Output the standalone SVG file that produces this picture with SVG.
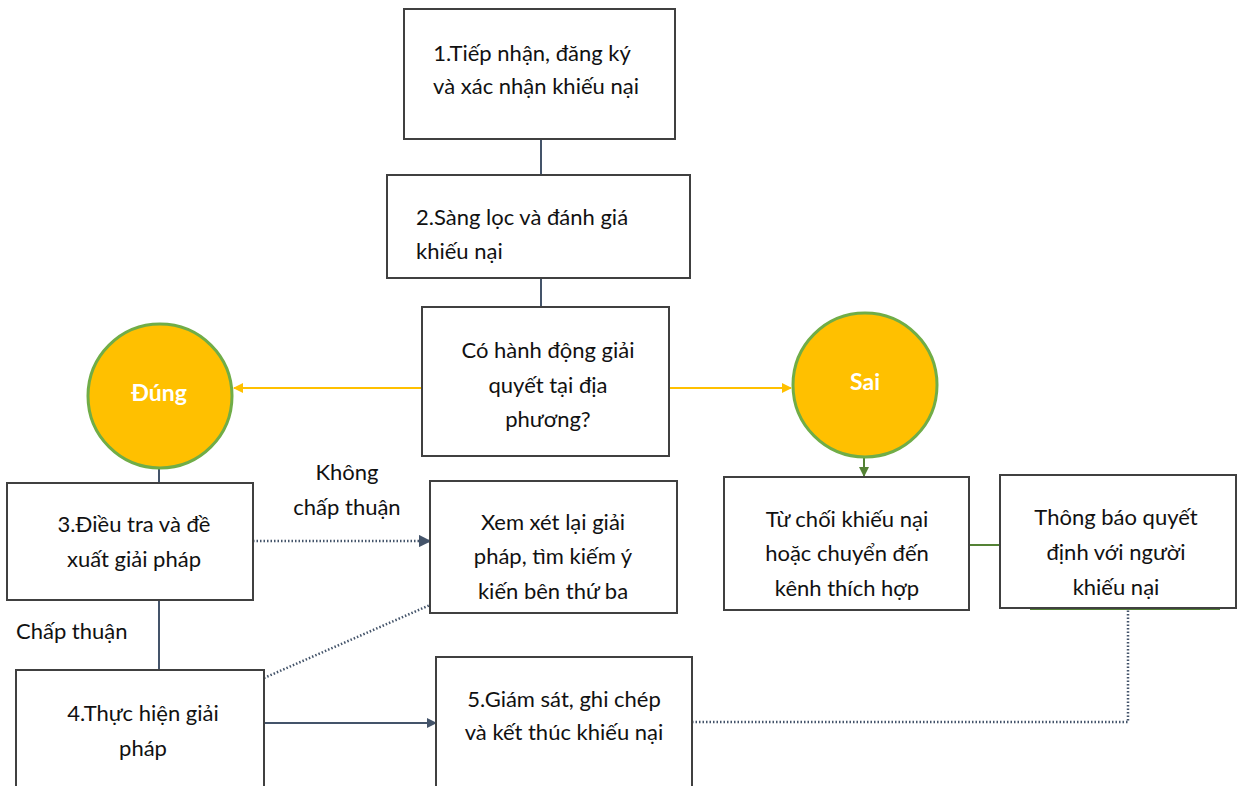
<svg xmlns="http://www.w3.org/2000/svg" width="1240" height="786" viewBox="0 0 1240 786">
<defs>
<style>
.box{fill:#fff;stroke:#404040;stroke-width:2}
.t{font-family:Lato,"Liberation Sans",sans-serif;font-size:22px;fill:#111;text-anchor:middle}
.tl{font-family:Lato,"Liberation Sans",sans-serif;font-size:22px;fill:#111}
.circ{fill:#FFC000;stroke:#70AD47;stroke-width:3}
.ct{font-family:Lato,"Liberation Sans",sans-serif;font-size:23px;font-weight:bold;fill:#fff;text-anchor:middle}
.solid{stroke:#44546A;stroke-width:2;fill:none}
.dot{stroke:#44546A;stroke-width:2.5;stroke-dasharray:1.5 2;fill:none}
.yel{stroke:#FFC000;stroke-width:2;fill:none}
.grn{stroke:#548235;stroke-width:2;fill:none}
</style>
<marker id="aD" viewBox="0 0 10 10" refX="9" refY="5" markerWidth="5" markerHeight="5" orient="auto"><path d="M0,0L10,5L0,10z" fill="#44546A"/></marker>
<marker id="aY" viewBox="0 0 10 10" refX="9" refY="5" markerWidth="5" markerHeight="5" orient="auto"><path d="M0,0L10,5L0,10z" fill="#FFC000"/></marker>
<marker id="aG" viewBox="0 0 10 10" refX="9" refY="5" markerWidth="5" markerHeight="5" orient="auto"><path d="M0,0L10,5L0,10z" fill="#548235"/></marker>
</defs>

<g id="connectors">
<line class="solid" x1="541" y1="139" x2="541" y2="175"/>
<line class="solid" x1="541" y1="278" x2="541" y2="307"/>
<line class="yel" x1="422" y1="388" x2="234" y2="388" marker-end="url(#aY)"/>
<line class="yel" x1="669" y1="388" x2="791" y2="388" marker-end="url(#aY)"/>
<line class="solid" x1="159" y1="468" x2="159" y2="483"/>
<line class="grn" x1="864" y1="457" x2="864" y2="476" marker-end="url(#aG)"/>
<line class="dot" x1="253" y1="541" x2="430" y2="541" marker-end="url(#aD)"/>
<line class="solid" x1="159" y1="600" x2="159" y2="670"/>
<line class="dot" x1="264" y1="678" x2="430" y2="605"/>
<line class="solid" x1="264" y1="723" x2="436" y2="723" marker-end="url(#aD)"/>
<polyline class="dot" points="692,722 1128,722 1128,609"/>
<line class="grn" x1="969" y1="545" x2="1000" y2="545"/>
<line stroke="#548235" stroke-width="2" x1="1030" y1="609" x2="1220" y2="609"/>
</g>

<g id="n1">
<rect class="box" x="404" y="9" width="271" height="130"/>
<text class="t" x="532" y="61">1.Tiếp nhận, đăng ký</text>
<text class="t" x="536" y="94">và xác nhận khiếu nại</text>
</g>

<g id="n2">
<rect class="box" x="387" y="175" width="303" height="103"/>
<text class="tl" x="416" y="225">2.Sàng lọc và đánh giá</text>
<text class="tl" x="416" y="259">khiếu nại</text>
</g>

<g id="decision">
<rect class="box" x="422" y="307" width="247" height="149"/>
<text class="t" x="548" y="358">Có hành động giải</text>
<text class="t" x="548" y="393">quyết tại địa</text>
<text class="t" x="548" y="427">phương?</text>
</g>

<g id="dung">
<circle class="circ" cx="160" cy="396" r="72"/>
<text class="ct" x="159" y="401">Đúng</text>
</g>

<g id="sai">
<circle class="circ" cx="865" cy="385" r="72"/>
<text class="ct" x="865" y="390">Sai</text>
</g>

<g id="n3">
<rect class="box" x="7" y="483" width="246" height="117"/>
<text class="t" x="134" y="532">3.Điều tra và đề</text>
<text class="t" x="134" y="567">xuất giải pháp</text>
</g>

<g id="label-khong">
<text class="t" x="347" y="480">Không</text>
<text class="t" x="347" y="515">chấp thuận</text>
</g>

<g id="label-chap">
<text class="tl" x="16" y="639">Chấp thuận</text>
</g>

<g id="review">
<rect class="box" x="430" y="481" width="247" height="132"/>
<text class="t" x="553" y="530">Xem xét lại giải</text>
<text class="t" x="553" y="564">pháp, tìm kiếm ý</text>
<text class="t" x="553" y="599">kiến bên thứ ba</text>
</g>

<g id="n4">
<rect class="box" x="16" y="670" width="248" height="125"/>
<text class="t" x="143" y="721">4.Thực hiện giải</text>
<text class="t" x="143" y="756">pháp</text>
</g>

<g id="n5">
<rect class="box" x="436" y="657" width="256" height="138"/>
<text class="t" x="564" y="707">5.Giám sát, ghi chép</text>
<text class="t" x="564" y="740">và kết thúc khiếu nại</text>
</g>

<g id="reject">
<rect class="box" x="724" y="477" width="245" height="133"/>
<text class="t" x="847" y="527">Từ chối khiếu nại</text>
<text class="t" x="847" y="561">hoặc chuyển đến</text>
<text class="t" x="847" y="596">kênh thích hợp</text>
</g>

<g id="notify">
<rect class="box" x="1000" y="475" width="236" height="133"/>
<text class="t" x="1116" y="525">Thông báo quyết</text>
<text class="t" x="1116" y="560">định với người</text>
<text class="t" x="1116" y="595">khiếu nại</text>
</g>
</svg>
